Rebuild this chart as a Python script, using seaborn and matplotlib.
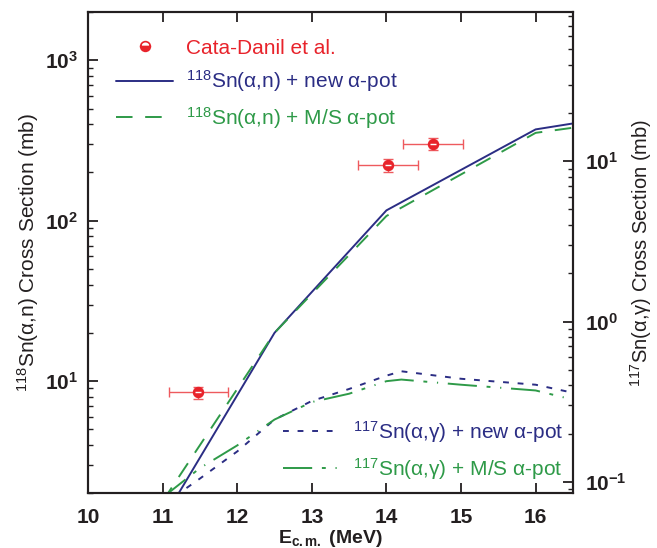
import numpy as np
import matplotlib
matplotlib.use("Agg")
import matplotlib.pyplot as plt
import seaborn as sns
from matplotlib.lines import Line2D
from matplotlib.ticker import LogLocator, FuncFormatter, NullFormatter

# ---------------- data ----------------
energy_n = [11.0, 12.5, 14.0, 16.0, 16.5]
xs_n_new = [1.36, 20.0, 116.0, 371.0, 404.0]
xs_n_ms = [1.78, 20.0, 107.0, 353.0, 380.0]

energy_g = [11.0, 11.5, 12.0, 12.5, 13.0, 13.5, 14.0, 14.2, 15.0, 16.0, 16.5]
xs_g_new = [0.072, 0.105, 0.155, 0.245, 0.32, 0.38, 0.46, 0.49, 0.44, 0.404, 0.36]
xs_g_ms = [0.080, 0.122, 0.169, 0.245, 0.315, 0.355, 0.425, 0.435, 0.404, 0.372, 0.326]

exp_E = [11.48, 14.02, 14.62]
exp_xs = [8.5, 223.0, 302.0]
exp_dE = [0.40, 0.40, 0.40]
exp_dxs = [0.75, 21.0, 27.0]

x_ticks = [10, 11, 12, 13, 14, 15, 16]
x_ticklabels = ["10", "11", "12", "13", "14", "15", "16"]

lab_exp = "Cata-Danil et al."
lab_n_new = "$^{118}$Sn(α,n) + new α-pot"
lab_n_ms = "$^{118}$Sn(α,n) + M/S α-pot"
lab_g_new = "$^{117}$Sn(α,γ) + new α-pot"
lab_g_ms = "$^{117}$Sn(α,γ) + M/S α-pot"

# ---------------- style ----------------
sns.set_style("ticks")
plt.rcParams["font.family"] = ["Liberation Sans", "DejaVu Sans"]
plt.rcParams["mathtext.fontset"] = "custom"
plt.rcParams["mathtext.rm"] = "Liberation Sans"
plt.rcParams["mathtext.it"] = "Liberation Sans:italic"
plt.rcParams["mathtext.bf"] = "Liberation Sans:bold"
plt.rcParams["mathtext.sf"] = "Liberation Sans"
plt.rcParams["axes.linewidth"] = 1.5

NAVY = "#2b2d84"
GREEN = "#2e9a48"
RED = "#e8232b"
ERRC = "#ee5a5e"
DARK = "#231f20"

ls_n_ms = (0, (8.5, 6.5))
ls_g_new = (0, (3.0, 4.5))
ls_g_ms = (0, (15, 5, 2, 5, 0.6, 5))

fig, ax = plt.subplots(figsize=(6.57, 5.48), dpi=100)
fig.subplots_adjust(left=0.134, right=0.872, bottom=0.100, top=0.978)

ax.set_yscale("log")
ax.set_xlim(10, 16.5)
ax.set_ylim(2, 2000)
ax2 = ax.twinx()
ax2.set_yscale("log")
ax2.set_ylim(0.0851, 85.1)

# curves
sns.lineplot(x=energy_n, y=xs_n_new, ax=ax, color=NAVY, lw=1.4, legend=False)
sns.lineplot(x=energy_n, y=xs_n_ms, ax=ax, color=GREEN, lw=1.4, linestyle=ls_n_ms, legend=False)
sns.lineplot(x=energy_g, y=xs_g_new, ax=ax2, color=NAVY, lw=1.4, linestyle=ls_g_new, legend=False)
sns.lineplot(x=energy_g, y=xs_g_ms, ax=ax2, color=GREEN, lw=1.4, linestyle=ls_g_ms, legend=False)

# experimental points
ax.errorbar(exp_E, exp_xs, xerr=exp_dE, yerr=exp_dxs, fmt="none", ecolor=ERRC,
            elinewidth=1.0, capsize=3.5, capthick=1.0, zorder=3)
sns.scatterplot(x=exp_E, y=exp_xs, ax=ax, color=RED, s=55, marker="o",
                edgecolor=RED, linewidth=0.8, zorder=4, legend=False)
ax.plot(exp_E, exp_xs, linestyle="none", marker="_", markersize=5, mew=1.0,
        color="white", zorder=5)

# axes formatting
for a in (ax, ax2):
    for sp in a.spines.values():
        sp.set_color(DARK)
        sp.set_linewidth(1.5)

ax.set_xticks(x_ticks)
ax.set_xticklabels(x_ticklabels, fontweight="bold")
fmt = FuncFormatter(lambda v, p: r"$\mathbf{10^{%d}}$" % int(round(np.log10(v))))
for a in (ax, ax2):
    a.yaxis.set_major_locator(LogLocator(base=10, numticks=10))
    a.yaxis.set_minor_locator(LogLocator(base=10, subs=np.arange(2, 10), numticks=12))
    a.yaxis.set_major_formatter(fmt)
    a.yaxis.set_minor_formatter(NullFormatter())

ax.tick_params(axis="both", which="major", direction="in", length=7, width=1.3,
               labelsize=15, pad=7, color=DARK, labelcolor=DARK)
ax.tick_params(axis="x", which="major", pad=10.5)
ax.tick_params(axis="both", which="minor", direction="in", length=3.5, width=1.0, color=DARK)
ax.tick_params(axis="x", top=True, bottom=True)
ax.tick_params(axis="y", left=True, right=False)
ax.tick_params(axis="x", which="minor", bottom=False, top=False)
ax2.tick_params(axis="y", which="major", direction="in", length=7, width=1.3,
                labelsize=15, pad=8.5, color=DARK, labelcolor=DARK, right=True, left=False)
ax2.tick_params(axis="y", which="minor", direction="in", length=3.5, width=1.0,
                color=DARK, right=True, left=False)

ax.set_xlabel(r"E$_{\mathbf{c.m.}}$ (MeV)", fontsize=14, fontweight="bold", color=DARK,
              va="top")
ax.set_ylabel("$^{118}$Sn(α,n) Cross Section (mb)", fontsize=15, color=DARK, va="center")
ax2.set_ylabel("$^{117}$Sn(α,γ) Cross Section (mb)", fontsize=14.5, color=DARK,
               va="center", rotation=90)
ax.xaxis.set_label_coords(0.5, -0.072)
ax.yaxis.set_label_coords(-0.124, 0.5)
ax2.yaxis.set_label_coords(1.14, 0.5)

# legends
h_exp = Line2D([], [], linestyle="none", marker="o", markersize=7, color=RED,
               markerfacecolor=RED, markerfacecoloralt="white", fillstyle="bottom",
               markeredgecolor=RED, mew=1.2)
h_n_new = Line2D([], [], color=NAVY, lw=1.4)
h_n_ms = Line2D([], [], color=GREEN, lw=1.4, linestyle=ls_n_ms)
leg1 = ax2.legend([h_exp, h_n_new, h_n_ms], [lab_exp, lab_n_new, lab_n_ms],
                  loc="upper left", bbox_to_anchor=(0.058, 0.945), frameon=False,
                  fontsize=15, handlelength=2.75, handletextpad=0.62, labelspacing=0.52,
                  borderpad=0, borderaxespad=0)
for t, c in zip(leg1.get_texts(), [RED, NAVY, GREEN]):
    t.set_color(c)
ax2.add_artist(leg1)

h_g_new = Line2D([], [], color=NAVY, lw=1.4, linestyle=ls_g_new)
h_g_ms = Line2D([], [], color=GREEN, lw=1.4, linestyle=ls_g_ms)
leg2 = ax2.legend([h_g_new, h_g_ms], [lab_g_new, lab_g_ms],
                  loc="upper left", bbox_to_anchor=(0.402, 0.155), frameon=False,
                  fontsize=15, handlelength=2.75, handletextpad=0.62, labelspacing=0.55,
                  borderpad=0, borderaxespad=0)
for t, c in zip(leg2.get_texts(), [NAVY, GREEN]):
    t.set_color(c)

fig.savefig("out.png", dpi=100)
